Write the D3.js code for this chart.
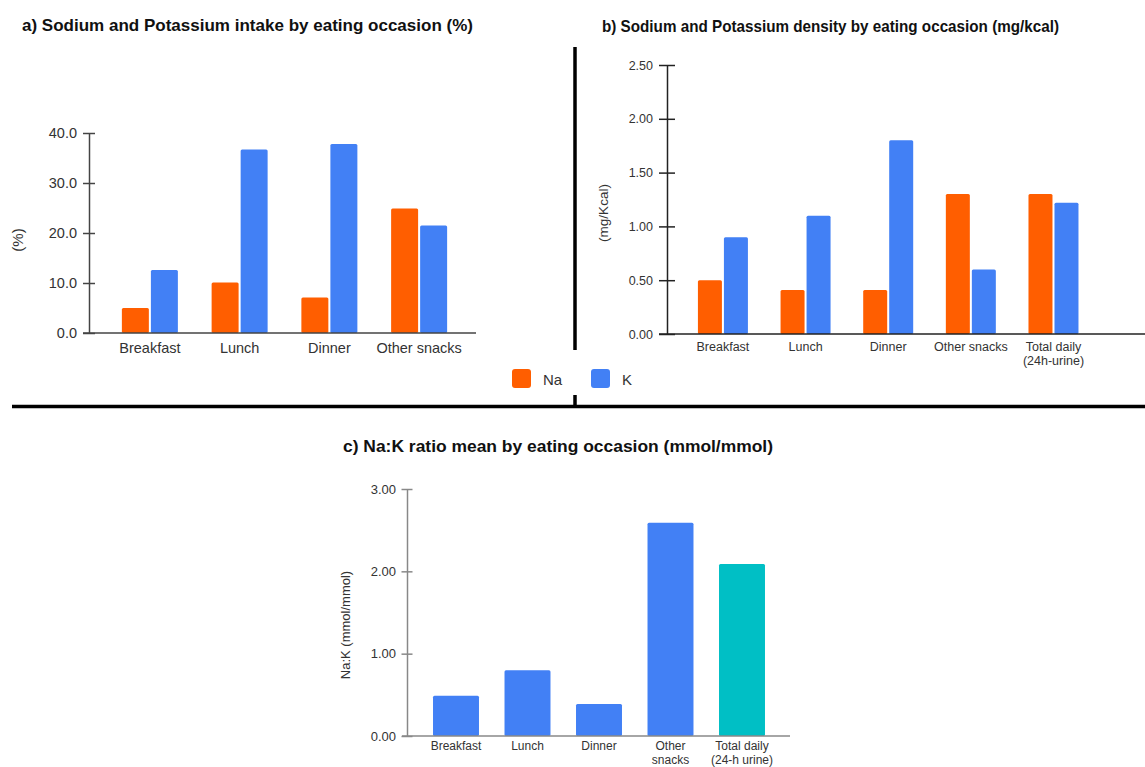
<!DOCTYPE html>
<html><head><meta charset="utf-8">
<script src="https://cdn.jsdelivr.net/npm/d3@7"></script>
<style>
html,body{margin:0;padding:0;background:#fff;}
svg{display:block;font-family:"Liberation Sans",Arial,sans-serif;}
</style></head>
<body>
<svg id="chart" width="1145" height="767"></svg>
<script>
// ---------- DATA ----------
const seriesNames = ["Na", "K"];
const catsA = ["Breakfast", "Lunch", "Dinner", "Other snacks"];
const naA = [5.0, 10.1, 7.1, 24.9];
const kA  = [12.6, 36.7, 37.8, 21.5];
const ticksA = [0, 10, 20, 30, 40];

const catsB = ["Breakfast", "Lunch", "Dinner", "Other snacks", "Total daily\n(24h-urine)"];
const naB = [0.50, 0.41, 0.41, 1.30, 1.30];
const kB  = [0.90, 1.10, 1.80, 0.60, 1.22];
const ticksB = [0, 0.5, 1.0, 1.5, 2.0, 2.5];

const catsC = ["Breakfast", "Lunch", "Dinner", "Other\nsnacks", "Total daily\n(24-h urine)"];
const ratioC = [0.49, 0.80, 0.39, 2.59, 2.09];
const ticksC = [0, 1, 2, 3];

const titles = [
  "a) Sodium and Potassium intake by eating occasion (%)",
  "b) Sodium and Potassium density by eating occasion (mg/kcal)",
  "c) Na:K ratio mean by eating occasion (mmol/mmol)"
];

// ---------- STYLE ----------
const NA_COL = "#FF5E00", K_COL = "#4280F5", TEAL = "#00BFC5";
const svg = d3.select("#chart");

function multiline(sel, lh) {
  sel.each(function(d) {
    const t = d3.select(this);
    const lines = String(d).split("\n");
    t.text(null);
    lines.forEach((l, i) => t.append("tspan").attr("x", 0).attr("dy", i === 0 ? 0 : lh).text(l));
  });
}

function yAxis(g, y, ticks, fmt, half, labX, fs, lineCol) {
  g.call(d3.axisLeft(y).tickValues(ticks).tickFormat(fmt).tickSizeOuter(0));
  g.select(".domain").attr("stroke", lineCol).attr("stroke-width", 1.5);
  g.selectAll(".tick line").attr("x1", half).attr("x2", -half).attr("stroke", lineCol).attr("stroke-width", 1.5);
  g.selectAll(".tick text").attr("x", labX).attr("font-size", fs).attr("fill", "#333")
    .attr("font-family", "Liberation Sans, Arial, sans-serif");
}

function xLabels(g, x0, cats, yBase, fs, lh) {
  g.selectAll("text.cat").data(cats).join("text").attr("class", "cat")
    .attr("transform", d => `translate(${x0(d) + x0.bandwidth() / 2},${yBase})`)
    .attr("text-anchor", "middle").attr("font-size", fs).attr("fill", "#333")
    .call(multiline, lh);
}

// ---------- PANEL A ----------
{
  const y = d3.scaleLinear().domain([0, 40]).range([333, 133]);
  const x0 = d3.scaleBand().domain(catsA).range([105, 464]).paddingInner(0.376).paddingOuter(0.188);
  const x1 = d3.scaleBand().domain(seriesNames).range([0, x0.bandwidth()]).paddingInner(0.07);
  const g = svg.append("g");
  const rows = catsA.map((c, i) => ({c, vals: [{s: "Na", v: naA[i]}, {s: "K", v: kA[i]}]}));
  g.selectAll("g.grp").data(rows).join("g").attr("transform", d => `translate(${x0(d.c)},0)`)
    .selectAll("rect").data(d => d.vals).join("rect")
    .attr("x", d => x1(d.s)).attr("width", x1.bandwidth())
    .attr("y", d => y(d.v)).attr("height", d => y(0) - y(d.v))
    .attr("rx", 1.5).attr("fill", d => d.s === "Na" ? NA_COL : K_COL);
  g.append("line").attr("x1", 83).attr("x2", 476).attr("y1", y(0)).attr("y2", y(0)).attr("stroke", "#444").attr("stroke-width", 1.5);
  yAxis(g.append("g").attr("transform", "translate(89,0)"), y, ticksA, d3.format(".1f"), 6, -12, 14.5, "#444");
  xLabels(g, x0, catsA, 353, 14.5, 15);
  g.append("text").attr("transform", "translate(23,240) rotate(-90)").attr("text-anchor", "middle")
    .attr("font-size", 15).attr("fill", "#333").text("(%)");
}

// ---------- PANEL B ----------
{
  const y = d3.scaleLinear().domain([0, 2.5]).range([334, 65]);
  const x0 = d3.scaleBand().domain(catsB).range([681.6, 1094.8]).paddingInner(0.395).paddingOuter(0.1975);
  const x1 = d3.scaleBand().domain(seriesNames).range([0, x0.bandwidth()]).paddingInner(0.077);
  const g = svg.append("g");
  const rows = catsB.map((c, i) => ({c, vals: [{s: "Na", v: naB[i]}, {s: "K", v: kB[i]}]}));
  g.selectAll("g.grp").data(rows).join("g").attr("transform", d => `translate(${x0(d.c)},0)`)
    .selectAll("rect").data(d => d.vals).join("rect")
    .attr("x", d => x1(d.s)).attr("width", x1.bandwidth())
    .attr("y", d => y(d.v)).attr("height", d => y(0) - y(d.v))
    .attr("rx", 1.5).attr("fill", d => d.s === "Na" ? NA_COL : K_COL);
  g.append("line").attr("x1", 659).attr("x2", 1145).attr("y1", y(0)).attr("y2", y(0)).attr("stroke", "#222").attr("stroke-width", 1.5);
  yAxis(g.append("g").attr("transform", "translate(667,0)"), y, ticksB, d3.format(".2f"), 8, -14, 12.5, "#222");
  xLabels(g, x0, catsB, 351, 12.5, 13.5);
  g.append("text").attr("transform", "translate(608,213) rotate(-90)").attr("text-anchor", "middle")
    .attr("font-size", 13.5).attr("fill", "#333").text("(mg/Kcal)");
}

// ---------- LEGEND ----------
{
  const leg = [{s: "Na", x: 512, col: NA_COL}, {s: "K", x: 591, col: K_COL}];
  const g = svg.append("g");
  const it = g.selectAll("g").data(leg).join("g").attr("transform", d => `translate(${d.x},369)`);
  it.append("rect").attr("width", 19).attr("height", 19).attr("rx", 3).attr("fill", d => d.col);
  it.append("text").attr("x", 31).attr("y", 15.5).attr("font-size", 15).attr("fill", "#333").text(d => d.s);
}

// ---------- PANEL C ----------
{
  const y = d3.scaleLinear().domain([0, 3]).range([736, 489]);
  const x0 = d3.scaleBand().domain(catsC).range([420.25, 777.75]).paddingInner(0.357).paddingOuter(0.1785);
  const g = svg.append("g");
  g.selectAll("rect").data(catsC.map((c, i) => ({c, v: ratioC[i], i}))).join("rect")
    .attr("x", d => x0(d.c)).attr("width", x0.bandwidth())
    .attr("y", d => y(d.v)).attr("height", d => y(0) - y(d.v))
    .attr("rx", 1.5).attr("fill", d => d.i === catsC.length - 1 ? TEAL : K_COL);
  g.append("line").attr("x1", 402).attr("x2", 790).attr("y1", y(0)).attr("y2", y(0)).attr("stroke", "#888").attr("stroke-width", 1.5);
  yAxis(g.append("g").attr("transform", "translate(407,0)"), y, ticksC, d3.format(".2f"), 5.5, -11, 13, "#888");
  xLabels(g, x0, catsC, 750, 12, 13.5);
  g.append("text").attr("transform", "translate(350,625) rotate(-90)").attr("text-anchor", "middle")
    .attr("font-size", 13).attr("fill", "#333").text("Na:K (mmol/mmol)");
}

// ---------- TITLES & DIVIDERS ----------
const tpos = [{x: 22, y: 31, w: 451}, {x: 602, y: 32, w: 457}, {x: 343, y: 452, w: 430}];
svg.selectAll("text.title").data(titles).join("text").attr("class", "title")
  .attr("x", (d, i) => tpos[i].x).attr("y", (d, i) => tpos[i].y)
  .attr("textLength", (d, i) => tpos[i].w).attr("lengthAdjust", "spacingAndGlyphs")
  .attr("font-size", 16.5).attr("font-weight", "bold").attr("fill", "#111").text(d => d);

svg.append("line").attr("x1", 575).attr("x2", 575).attr("y1", 47).attr("y2", 350).attr("stroke", "#000").attr("stroke-width", 3.5);
svg.append("line").attr("x1", 575).attr("x2", 575).attr("y1", 395).attr("y2", 406).attr("stroke", "#000").attr("stroke-width", 3.5);
svg.append("line").attr("x1", 12).attr("x2", 1145).attr("y1", 406.5).attr("y2", 406.5).attr("stroke", "#000").attr("stroke-width", 3.5);
</script>
</body></html>
